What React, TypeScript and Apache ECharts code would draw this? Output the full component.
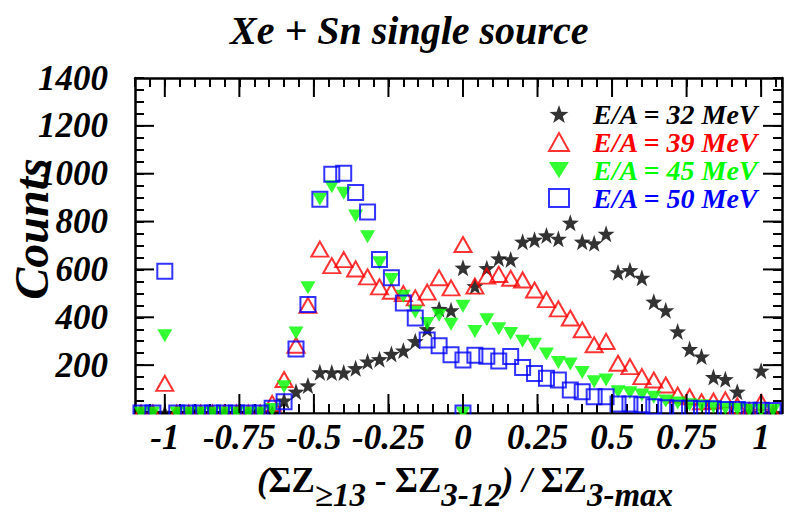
import React, { useEffect, useRef } from 'react';
import * as echarts from 'echarts';

// bin centres of (SumZ>=13 - SumZ3-12) / SumZ3-max
const bins = [
  -1.08, -1.04, -1.0, -0.96, -0.92, -0.88, -0.84, -0.8, -0.76, -0.72, -0.68, -0.64,
  -0.6, -0.56, -0.52, -0.48, -0.44, -0.4, -0.36, -0.32, -0.28, -0.24, -0.2, -0.16,
  -0.12, -0.08, -0.04, 0.0, 0.04, 0.08, 0.12, 0.16, 0.2, 0.24, 0.28, 0.32, 0.36,
  0.4, 0.44, 0.48, 0.52, 0.56, 0.6, 0.64, 0.68, 0.72, 0.76, 0.8, 0.84, 0.88, 0.92,
  0.96, 1.0, 1.04,
];

const counts32 = [
  0, 0, 0, 0, 0, 0, 0, 0, 0, 0, 0, 0,
  52, 89, 115, 170, 169, 169, 187, 215, 225, 247, 261, 300,
  350, 435, 429, 607, 530, 605, 646, 642, 716, 724, 742, 728, 795,
  716, 709, 749, 588, 597, 565, 465, 429, 341, 267, 236, 150, 141, 89,
  0, 177, 0,
];

const counts39 = [
  0, 0, 124, 0, 0, 0, 0, 0, 0, 0, 0, 40,
  140, 283, 450, 685, 616, 641, 602, 569, 527, 509, 499, 481,
  505, 565, 523, 704, 530, 572, 579, 563, 556, 514, 474, 435, 397,
  348, 285, 299, 208, 194, 152, 138, 117, 75, 68, 47, 50, 55, 30,
  10, 45, 0,
];

const counts45 = [
  0, 0, 323, 0, 0, 0, 0, 0, 0, 0, 0, 15,
  110, 334, 523, 893, 946, 918, 823, 737, 628, 558, 488, 422,
  374, 408, 371, 446, 341, 390, 352, 332, 300, 287, 247, 211, 205,
  169, 131, 138, 89, 85, 75, 66, 50, 42, 35, 30, 25, 20, 15,
  12, 10, 10,
];

const counts50 = [
  0, 0, 592, 0, 0, 0, 0, 0, 0, 0, 0, 20,
  47, 267, 453, 893, 998, 1002, 921, 840, 641, 565, 460, 397,
  305, 281, 243, 222, 241, 237, 217, 236, 190, 165, 145, 138, 96,
  89, 68, 68, 38, 38, 34, 26, 22, 20, 20, 18, 18, 15, 15,
  12, 12, 10,
];

// extra empty entries drawn at x = 0
const extra45 = [[0, 0]];
const extra50 = [[0, 0]];

const seriesNames = ['E/A = 32 MeV', 'E/A = 39 MeV', 'E/A = 45 MeV', 'E/A = 50 MeV'];
const seriesColors = ['#000000', '#ff0000', '#00ff00', '#0000ff'];
const xMajorTicks = [-1, -0.75, -0.5, -0.25, 0, 0.25, 0.5, 0.75, 1];
const yMajorTicks = [200, 400, 600, 800, 1000, 1200];
const chartTitle = 'Xe + Sn single source';
const yTitle = 'Counts';

const X_MIN = -1.1;
const X_MAX = 1.07;
const Y_MIN = 0;
const Y_MAX = 1400;

const FONT = "'Liberation Serif', 'Times New Roman', serif";
const STAR =
  'path://M0,-10L2.35,-3.24L9.51,-3.09L3.8,1.24L5.88,8.09L0,4L-5.88,8.09L-3.8,1.24L-9.51,-3.09L-2.35,-3.24Z';
const TRI_DOWN = 'path://M0,0L16,0L8,13Z';

const labelStyle = {
  fontFamily: FONT,
  fontWeight: 'bold' as const,
  fontStyle: 'italic' as const,
  fontSize: 35,
  color: '#000',
};

function xLabel(v: number) {
  const r = Math.round(v * 100);
  if (r % 25 !== 0) return '';
  if (r < -100 || r > 100) return '';
  return String(r / 100);
}

function yLabel(v: number) {
  const r = Math.round(v);
  if (r > 0 && r % 200 === 0) return String(r);
  return '';
}

export default function App() {
  const ref = useRef<HTMLDivElement>(null);

  useEffect(() => {
    if (!ref.current) return;
    const chart = echarts.init(ref.current, undefined, { renderer: 'svg' });

    const axisCommon = {
      type: 'value' as const,
      axisLine: { show: true, onZero: false, lineStyle: { color: '#000', width: 2.5 } },
      axisTick: { show: true, inside: true, length: 9, lineStyle: { color: '#000', width: 2 } },
      splitLine: { show: false },
    };

    const tickLine = (x1: number, y1: number, x2: number, y2: number) => ({
      type: 'line',
      shape: { x1, y1, x2, y2 },
      style: { stroke: '#000', lineWidth: 2 },
    });

    const option: any = {
      animation: false,
      backgroundColor: '#fff',
      title: {
        text: chartTitle,
        left: 225,
        top: 5,
        textStyle: {
          fontFamily: FONT,
          fontWeight: 'bold',
          fontStyle: 'italic',
          fontSize: 40,
          color: '#000',
        },
      },
      grid: { left: 135, right: 4, top: 78, bottom: 100, containLabel: false },
      xAxis: [
        {
          ...axisCommon,
          position: 'bottom',
          min: X_MIN,
          max: X_MAX,
          interval: 0.05,
          axisLabel: { ...labelStyle, margin: 7, formatter: xLabel, showMinLabel: true, showMaxLabel: true },
        },
        {
          ...axisCommon,
          position: 'top',
          min: X_MIN,
          max: X_MAX,
          interval: 0.05,
          axisLabel: { show: false },
        },
      ],
      yAxis: [
        {
          ...axisCommon,
          position: 'left',
          min: Y_MIN,
          max: Y_MAX,
          interval: 50,
          axisLabel: { ...labelStyle, margin: 27, formatter: yLabel },
        },
        {
          ...axisCommon,
          position: 'right',
          min: Y_MIN,
          max: Y_MAX,
          interval: 50,
          axisLabel: { show: false },
        },
      ],
      legend: {
        orient: 'vertical',
        left: 543,
        top: 95,
        itemWidth: 20,
        itemHeight: 18,
        itemGap: 0,
        selectedMode: false,
        data: seriesNames.map((n, i) => ({ name: n, textStyle: { color: seriesColors[i] } })),
        textStyle: {
          fontFamily: FONT,
          fontWeight: 'bold',
          fontStyle: 'italic',
          fontSize: 28,
          padding: [0, 0, 0, 19],
        },
      },
      graphic: [
        {
          type: 'rect',
          z: 100,
          shape: { x: 120, y: 414.5, width: 666, height: 8 },
          style: { fill: '#fff' },
        },
        {
          type: 'text',
          z: 100,
          x: 31,
          y: 229,
          rotation: Math.PI / 2,
          style: {
            text: yTitle,
            fontFamily: FONT,
            fontWeight: 'bold',
            fontStyle: 'italic',
            fontSize: 48,
            fill: '#000',
            align: 'center',
            verticalAlign: 'middle',
          },
        },
        {
          type: 'text',
          z: 100,
          x: 465,
          y: 480,
          style: {
            text: '{p|(}{m|ΣZ}{s|≥13}{m| - ΣZ}{s|3-12}{p|) / }{m|ΣZ}{s|3-max}',
            align: 'center',
            verticalAlign: 'middle',
            fill: '#000',
            rich: {
              p: { fontFamily: FONT, fontWeight: 'bold', fontStyle: 'italic', fontSize: 35, lineHeight: 56, fill: '#000' },
              m: { fontFamily: FONT, fontWeight: 'bold', fontSize: 35, lineHeight: 56, fill: '#000' },
              s: {
                fontFamily: FONT,
                fontWeight: 'bold',
                fontStyle: 'italic',
                fontSize: 33,
                lineHeight: 26,
                padding: [30, 0, 0, 0],
                fill: '#000',
              },
            },
          },
        },
      ],
      series: [
        {
          name: seriesNames[0],
          type: 'scatter',
          data: bins.map((x, i) => [x, counts32[i]]),
          symbol: STAR,
          symbolSize: 17,
          itemStyle: { color: seriesColors[0] },
          silent: true,
          z: 2,
        },
        {
          name: seriesNames[1],
          type: 'scatter',
          data: bins.map((x, i) => [x, counts39[i]]),
          symbol: 'triangle',
          symbolSize: [17, 15],
          itemStyle: { color: 'rgba(0,0,0,0)', borderColor: seriesColors[1], borderWidth: 2 },
          silent: true,
          z: 3,
        },
        {
          name: seriesNames[2],
          type: 'scatter',
          data: bins.map((x, i) => [x, counts45[i]]).concat(extra45),
          symbol: TRI_DOWN,
          symbolSize: [15, 13],
          itemStyle: { color: seriesColors[2] },
          silent: true,
          z: 4,
        },
        {
          name: seriesNames[3],
          type: 'scatter',
          data: bins.map((x, i) => [x, counts50[i]]).concat(extra50),
          symbol: 'rect',
          symbolSize: 15,
          itemStyle: { color: 'rgba(0,0,0,0)', borderColor: seriesColors[3], borderWidth: 2 },
          silent: true,
          z: 5,
        },
        {
          type: 'custom',
          silent: true,
          clip: false,
          z: 6,
          data: xMajorTicks.map((v) => [v, Y_MIN]),
          encode: { x: 0, y: 1 },
          renderItem: (_p: any, api: any) => {
            const b = api.coord([api.value(0), Y_MIN]);
            const t = api.coord([api.value(0), Y_MAX]);
            return {
              type: 'group',
              children: [tickLine(b[0], b[1], b[0], b[1] - 19), tickLine(t[0], t[1], t[0], t[1] + 19)],
            };
          },
        },
        {
          type: 'custom',
          silent: true,
          clip: false,
          z: 6,
          data: yMajorTicks.map((v) => [X_MIN, v]),
          encode: { x: 0, y: 1 },
          renderItem: (_p: any, api: any) => {
            const l = api.coord([X_MIN, api.value(1)]);
            const r = api.coord([X_MAX, api.value(1)]);
            return {
              type: 'group',
              children: [tickLine(l[0], l[1], l[0] + 19, l[1]), tickLine(r[0], r[1], r[0] - 19, r[1])],
            };
          },
        },
      ],
    };

    chart.setOption(option);
    return () => chart.dispose();
  }, []);

  return (
    <div
      ref={ref}
      style={{ position: 'fixed', left: 0, top: 0, width: 786, height: 513, background: '#fff' }}
    />
  );
}
